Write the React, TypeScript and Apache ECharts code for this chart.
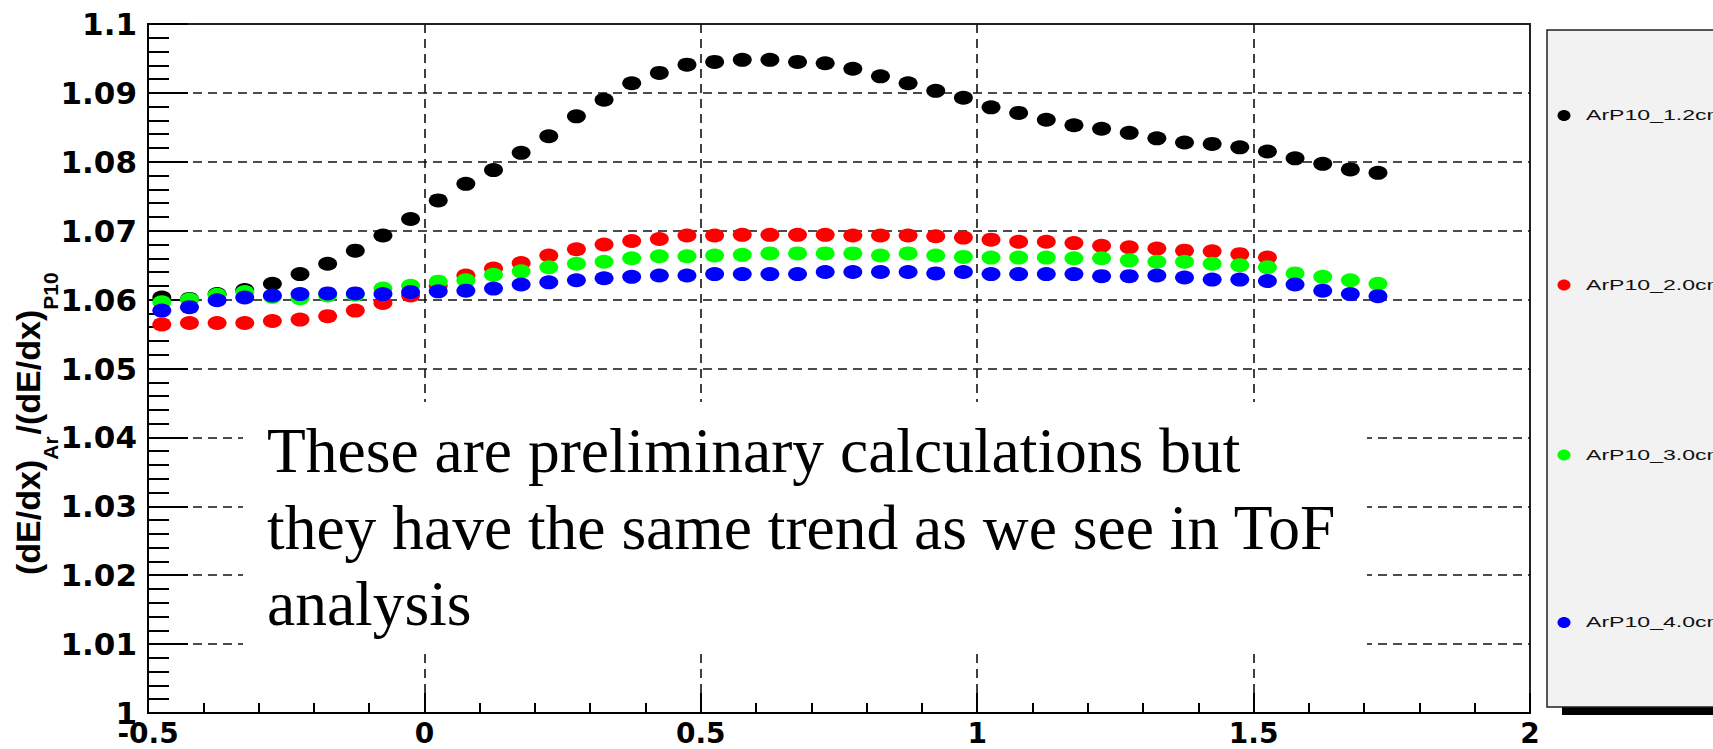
import React, { useEffect, useRef } from "react";
import * as echarts from "echarts";

// Track position (x) of each sample
const xPositions = [
  -0.475, -0.425, -0.375, -0.325, -0.275, -0.225, -0.175, -0.125, -0.075, -0.025,
  0.025, 0.075, 0.125, 0.175, 0.225, 0.275, 0.325, 0.375, 0.425, 0.475,
  0.525, 0.575, 0.625, 0.675, 0.725, 0.775, 0.825, 0.875, 0.925, 0.975,
  1.025, 1.075, 1.125, 1.175, 1.225, 1.275, 1.325, 1.375, 1.425, 1.475,
  1.525, 1.575, 1.625, 1.675, 1.725,
];

// (dE/dx)_Ar / (dE/dx)_P10 for each gap
const ratio12cm = [
  1.0603, 1.0601, 1.0608, 1.0614, 1.0623, 1.0637, 1.0652, 1.0671, 1.0693, 1.0717,
  1.0744, 1.0768, 1.0788, 1.0813, 1.0837, 1.0866, 1.089, 1.0914, 1.0929, 1.0941,
  1.0945, 1.0948, 1.0948, 1.0945, 1.0943, 1.0935, 1.0924, 1.0914, 1.0903, 1.0893,
  1.0879, 1.0871, 1.0861, 1.0853, 1.0848, 1.0842, 1.0834, 1.0828, 1.0826, 1.0821,
  1.0815, 1.0805, 1.0797, 1.0789, 1.0784,
];
const ratio20cm = [
  1.0564, 1.0566, 1.0566, 1.0566, 1.0569, 1.0571, 1.0576, 1.0584, 1.0595, 1.0606,
  1.062, 1.0635, 1.0645, 1.0653, 1.0664, 1.0673, 1.068, 1.0685, 1.0688, 1.0693,
  1.0693, 1.0694, 1.0694, 1.0694, 1.0694, 1.0693, 1.0693, 1.0693, 1.0692, 1.069,
  1.0687, 1.0684, 1.0684, 1.0682, 1.0678, 1.0676, 1.0674, 1.0671, 1.067, 1.0666,
  1.0661,
];
const ratio30cm = [
  1.0596, 1.06, 1.0607, 1.0611, 1.0604, 1.0602, 1.0606, 1.0607, 1.0616, 1.062,
  1.0626, 1.0628, 1.0636, 1.0641, 1.0647, 1.0652, 1.0655, 1.066, 1.0663, 1.0663,
  1.0664, 1.0665, 1.0667, 1.0667, 1.0667, 1.0667, 1.0664, 1.0667, 1.0664, 1.0662,
  1.0661, 1.0661, 1.0661, 1.066, 1.066, 1.0657, 1.0655, 1.0655, 1.0652, 1.065,
  1.0647, 1.0638, 1.0633, 1.0628, 1.0623,
];
const ratio40cm = [
  1.0584, 1.0589, 1.0599, 1.0603, 1.0606, 1.0608, 1.0609, 1.0609, 1.0608, 1.0611,
  1.0612, 1.0613, 1.0616, 1.0622, 1.0625, 1.0628, 1.0631, 1.0633, 1.0635, 1.0635,
  1.0637, 1.0637, 1.0637, 1.0637, 1.064, 1.064, 1.064, 1.064, 1.0638, 1.064,
  1.0637, 1.0637, 1.0637, 1.0637, 1.0634, 1.0634, 1.0635, 1.0632, 1.0629, 1.0629,
  1.0627, 1.0622, 1.0613, 1.0608, 1.0605,
];

const seriesNames = ["ArP10_1.2cm", "ArP10_2.0cm", "ArP10_3.0cm", "ArP10_4.0cm"];
const seriesValues = [ratio12cm, ratio20cm, ratio30cm, ratio40cm];
const seriesColors = ["#000000", "#ff0000", "#00ff00", "#0000ff"];

// Axis ranges and tick steps
const xRange = { min: -0.5, max: 2, step: 0.5 };
const yRange = { min: 1, max: 1.1, step: 0.01 };

// Y-axis title pieces: main text and subscripts
const yTitleParts = [
  { text: "(dE/dx)", sub: false },
  { text: "Ar", sub: true },
  { text: "/(dE/dx)", sub: false },
  { text: "P10", sub: true },
];

const noteLines = [
  "These are preliminary calculations but",
  "they have the same trend as we see in ToF",
  "analysis",
];

const measure = (text: string, font: string): number => {
  const ctx = document.createElement("canvas").getContext("2d");
  if (!ctx) return text.length * 12;
  ctx.font = font;
  return ctx.measureText(text).width;
};

export default function App() {
  const ref = useRef<HTMLDivElement>(null);

  useEffect(() => {
    if (!ref.current) return;
    const chart = echarts.init(ref.current, undefined, { renderer: "svg" });

    // Rotated y-axis title, built piece by piece so the subscripts sit low
    const mainFont = "bold 34px 'Liberation Sans'";
    const subFont = "bold 21px 'Liberation Sans'";
    let cursor = 0;
    const titleChildren: any[] = [];
    yTitleParts.forEach((p) => {
      const font = p.sub ? subFont : mainFont;
      titleChildren.push({
        type: "text",
        x: cursor,
        y: p.sub ? 10.7 : -11.8,
        style: {
          text: p.text,
          font,
          fill: "#000",
          align: "left",
          verticalAlign: "middle",
        },
      });
      cursor += measure(p.text, font) + (p.sub ? 2 : 0);
    });

    // Legend panel with its drop shadow
    const legendRows = [115.5, 285, 455, 622.5];
    const legendChildren: any[] = [
      { type: "rect", shape: { x: 1562, y: 38, width: 220, height: 677 }, style: { fill: "#000" }, z: 10 },
      {
        type: "rect",
        shape: { x: 1547, y: 30, width: 220, height: 677 },
        style: { fill: "#f2f2f2", stroke: "#222", lineWidth: 1.5 },
        z: 11,
      },
    ];
    seriesNames.forEach((name, i) => {
      legendChildren.push({
        type: "ellipse",
        shape: { cx: 1564, cy: legendRows[i], rx: 6.5, ry: 5.5 },
        style: { fill: seriesColors[i] },
        z: 12,
      });
      legendChildren.push({
        type: "text",
        x: 1586,
        y: legendRows[i],
        scaleX: 1.65,
        style: {
          text: name,
          font: "14px 'Liberation Sans'",
          fill: "#111",
          align: "left",
          verticalAlign: "middle",
        },
        z: 12,
      });
    });

    // White note box over the lower part of the plot
    const noteChildren: any[] = [
      {
        type: "rect",
        shape: { x: 243, y: 402, width: 1124, height: 250 },
        style: { fill: "#fff" },
        z: 50,
      },
    ];
    const baselines = [472, 549, 625];
    noteLines.forEach((line, i) => {
      noteChildren.push({
        type: "text",
        x: 267,
        y: baselines[i] - 21.4,
        style: {
          text: line,
          font: "63.5px 'Liberation Serif'",
          fill: "#000",
          align: "left",
          verticalAlign: "middle",
        },
        z: 51,
      });
    });

    const option: any = {
      animation: false,
      backgroundColor: "#ffffff",
      grid: {
        left: 148,
        right: 183,
        top: 24,
        bottom: 36,
        show: true,
        borderColor: "#222",
        borderWidth: 2,
        backgroundColor: "#ffffff",
      },
      xAxis: {
        type: "value",
        min: xRange.min,
        max: xRange.max,
        interval: xRange.step,
        axisLine: { show: true, onZero: false, lineStyle: { color: "#000", width: 2 } },
        axisTick: { show: true, inside: true, length: 20, lineStyle: { color: "#000", width: 2 } },
        minorTick: { show: true, splitNumber: 5, length: 10, lineStyle: { color: "#000", width: 2 } },
        splitLine: {
          show: true,
          showMinLine: false,
          showMaxLine: false,
          lineStyle: { color: "#111", width: 1.6, type: [9, 6] },
        },
        axisLabel: {
          fontFamily: "DejaVu Sans",
          fontWeight: "bold",
          fontSize: 28,
          lineHeight: 28,
          color: "#000",
          margin: 6,
        },
      },
      yAxis: {
        type: "value",
        min: yRange.min,
        max: yRange.max,
        interval: yRange.step,
        axisLine: { show: true, onZero: false, lineStyle: { color: "#000", width: 2 } },
        axisTick: { show: true, inside: true, length: 40, lineStyle: { color: "#000", width: 2 } },
        minorTick: { show: true, splitNumber: 5, length: 21, lineStyle: { color: "#000", width: 2 } },
        splitLine: {
          show: true,
          showMinLine: false,
          showMaxLine: false,
          lineStyle: { color: "#111", width: 1.6, type: [9, 6] },
        },
        axisLabel: {
          fontFamily: "DejaVu Sans",
          fontWeight: "bold",
          fontSize: 31,
          lineHeight: 26,
          color: "#000",
          margin: 11,
        },
      },
      series: seriesValues.map((vals, i) => ({
        type: "scatter",
        name: seriesNames[i],
        data: vals.map((v, k) => [xPositions[k], v]),
        symbol: "circle",
        symbolSize: [19, 14],
        itemStyle: { color: seriesColors[i], opacity: 1 },
        emphasis: { disabled: true },
      })),
      graphic: [
        {
          type: "group",
          x: 40,
          y: 575,
          rotation: Math.PI / 2,
          children: titleChildren,
          z: 20,
        },
        { type: "group", children: legendChildren, z: 10 },
        { type: "group", children: noteChildren, z: 50 },
      ],
    };

    chart.setOption(option);
    return () => chart.dispose();
  }, []);

  return (
    <div
      ref={ref}
      style={{ position: "fixed", left: 0, top: 0, width: 1713, height: 749, background: "#fff" }}
    />
  );
}
